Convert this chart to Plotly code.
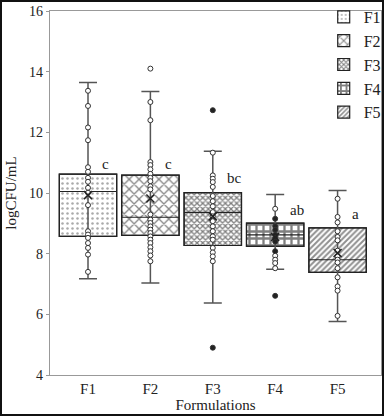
import plotly.graph_objects as go

formulations = ["F1", "F2", "F3", "F4", "F5"]
q1 = [8.57, 8.60, 8.27, 8.24, 7.38]
medians = [10.05, 9.20, 9.36, 8.62, 7.80]
q3 = [10.62, 10.59, 10.01, 9.01, 8.85]
lower_whisker = [7.17, 7.03, 6.37, 7.49, 5.76]
upper_whisker = [13.64, 13.35, 11.38, 9.95, 10.08]
means = [9.93, 9.82, 9.23, 8.55, 8.02]
letters = ["c", "c", "bc", "ab", "a"]
letter_y = [10.95, 10.95, 10.5, 9.45, 9.3]

points_F1 = [13.37, 12.87, 12.16, 11.74, 10.85, 10.70, 10.50, 10.37, 10.17, 10.01,
             9.60, 8.74, 8.63, 8.52, 8.35, 8.19, 7.97, 7.40]
points_F2 = [14.10, 13.00, 12.40, 11.02, 10.92, 10.78, 10.63, 10.50, 10.39, 10.22,
             10.12, 9.29, 9.12, 9.01, 8.90, 8.79, 8.68, 8.57, 8.46, 8.35, 8.21,
             8.08, 7.94, 7.75]
points_F3 = [12.73, 11.33, 10.58, 10.47, 10.36, 10.20, 9.90, 9.73, 9.56, 9.37,
             9.23, 9.07, 8.90, 8.74, 8.57, 8.46, 8.19, 8.04, 7.91, 7.75, 4.90]
points_F4 = [9.48, 9.15, 8.90, 8.79, 8.62, 8.52, 8.40, 8.08, 7.93, 7.80, 7.69,
             7.52, 6.61]
points_F5 = [9.81, 9.21, 9.03, 8.74, 8.55, 8.44, 8.10, 7.91, 7.80, 7.71, 7.52,
             7.22, 6.92, 6.78, 5.95]
all_points = [points_F1, points_F2, points_F3, points_F4, points_F5]

FONT = "Liberation Serif"
patterns = [
    dict(shape=".", size=5, solidity=0.2, fgcolor="#555", bgcolor="white"),
    dict(shape="x", size=7, solidity=0.35, fgcolor="#111", bgcolor="white"),
    dict(shape="x", size=4, solidity=0.55, fgcolor="#000", bgcolor="white"),
    dict(shape="+", size=7, solidity=0.55, fgcolor="#000", bgcolor="white"),
    dict(shape="/", size=4, solidity=0.5, fgcolor="#222", bgcolor="white"),
]
BW = 0.92
xs = list(range(len(formulations)))

fig = go.Figure()

# patterned boxes (IQR)
for i, name in enumerate(formulations):
    fig.add_trace(go.Bar(
        x=[xs[i]], y=[q3[i] - q1[i]], base=[q1[i]], width=BW, name=name,
        marker=dict(color="white", pattern=patterns[i], line=dict(color="#222", width=1.2)),
        showlegend=True, hoverinfo="skip",
    ))

# outline + median
for i, name in enumerate(formulations):
    fig.add_trace(go.Box(
        x=[xs[i]], q1=[q1[i]], median=[medians[i]], q3=[q3[i]],
        lowerfence=[q1[i]], upperfence=[q3[i]], width=BW,
        fillcolor="rgba(0,0,0,0)", line=dict(color="#222", width=1.2),
        showlegend=False, hoverinfo="skip",
    ))

# whiskers with caps
fig.add_trace(go.Scatter(
    x=xs, y=medians, mode="markers",
    marker=dict(size=1, color="rgba(0,0,0,0)"),
    error_y=dict(type="data", symmetric=False,
                 array=[u - m for u, m in zip(upper_whisker, medians)],
                 arrayminus=[m - l for m, l in zip(medians, lower_whisker)],
                 color="#555", thickness=1.5, width=9),
    showlegend=False, hoverinfo="skip",
))

# data points
for i, pts in enumerate(all_points):
    if i == 3:
        filled = [False, True, True, True, True, True, True, True, False, False, False, False, True]
    elif i == 2:
        filled = [p in (12.73, 4.90) for p in pts]
    else:
        filled = [False] * len(pts)
    fig.add_trace(go.Scatter(
        x=[xs[i]] * len(pts), y=pts, mode="markers",
        marker=dict(symbol="circle", size=5,
                    color=["#222" if f else "white" for f in filled],
                    line=dict(color="#333", width=1)),
        showlegend=False, hoverinfo="skip",
    ))

# means
fig.add_trace(go.Scatter(
    x=xs, y=means, mode="markers",
    marker=dict(symbol="x-thin-open", size=8, color="#222", line=dict(color="#222", width=1.5)),
    showlegend=False, hoverinfo="skip",
))

for i, t in enumerate(letters):
    fig.add_annotation(x=xs[i] + 0.2, y=letter_y[i], text=t, showarrow=False,
                       xanchor="left", font=dict(family=FONT, size=15, color="#222"))

# outer frame
fig.add_shape(type="rect", xref="paper", yref="paper",
              x0=-49 / 331, x1=333 / 331, y0=-40 / 364, y1=374 / 364,
              line=dict(color="#111", width=2), fillcolor="rgba(0,0,0,0)", layer="above")

fig.update_layout(
    width=384, height=416, autosize=False,
    margin=dict(l=50, r=3, t=11, b=41, autoexpand=False),
    paper_bgcolor="white", plot_bgcolor="white",
    barmode="overlay", boxmode="overlay",
    font=dict(family=FONT, size=14, color="#222"),
    legend=dict(xref="container", yref="container", x=0.843, y=1.0,
                xanchor="left", yanchor="top",
                bgcolor="rgba(0,0,0,0)", font=dict(family=FONT, size=16),
                itemwidth=30, tracegroupgap=0),
    xaxis=dict(range=[-0.609, 4.696], tickmode="array", tickvals=xs,
               ticktext=formulations, showgrid=False, zeroline=False,
               showline=True, linecolor="#999", linewidth=1.2, mirror=True,
               ticks="", title=dict(text="Formulations", standoff=0,
                                    font=dict(family=FONT, size=15)),
               tickfont=dict(family=FONT, size=15)),
    yaxis=dict(range=[4, 16], dtick=2, showgrid=False, zeroline=False,
               showline=True, linecolor="#999", linewidth=1.2, mirror=True,
               ticks="outside", ticklen=3, tickcolor="#999",
               title=dict(text="logCFU/mL", standoff=8, font=dict(family=FONT, size=15)),
               tickfont=dict(family=FONT, size=14)),
)

fig.write_html(
    "out.html",
    config={"displayModeBar": False, "responsive": False},
    post_script=("document.body.style.margin='0px';"
                 "document.body.style.overflow='hidden';"),
)
